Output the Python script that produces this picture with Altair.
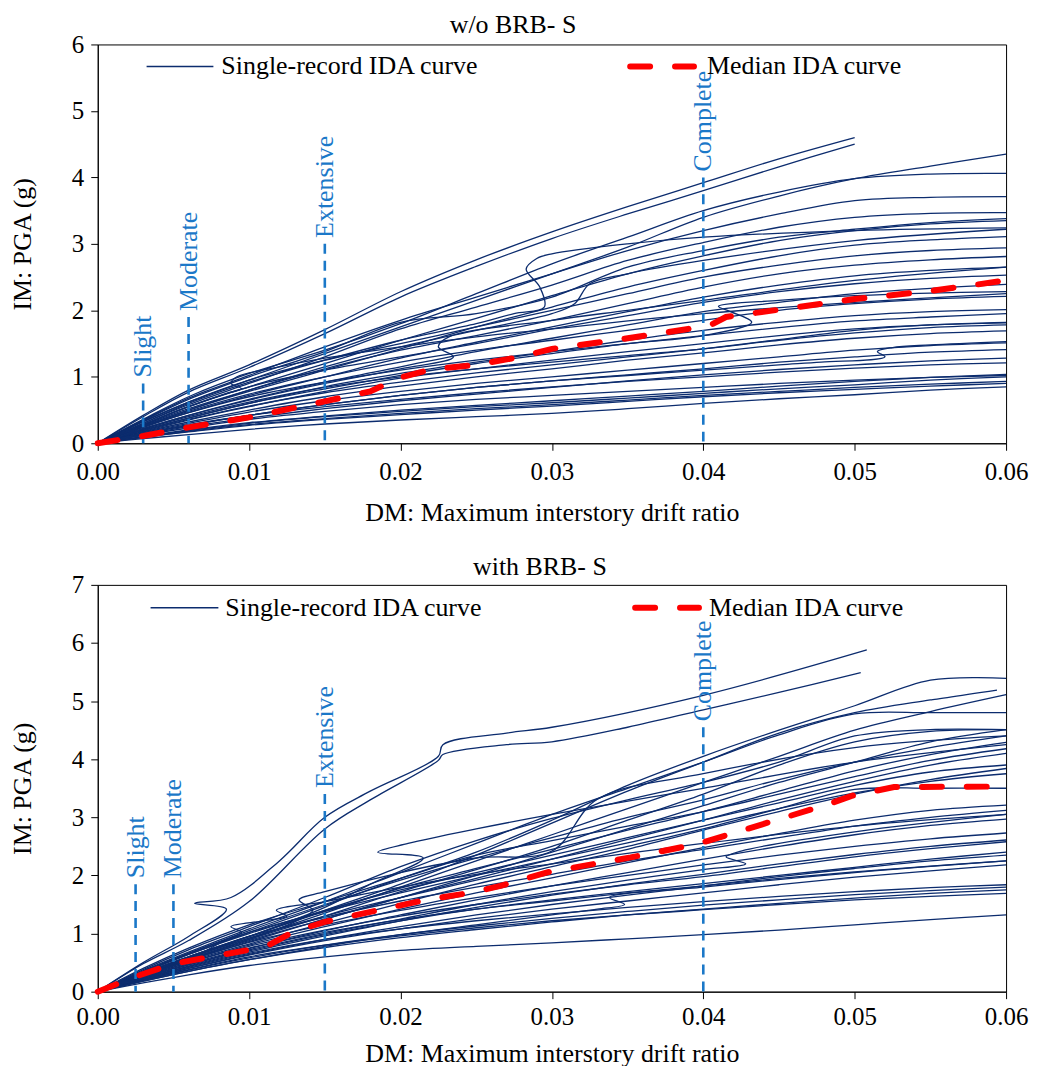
import altair as alt
import pandas as pd

# ---------------- data ----------------
DRIFT_GRID = [0, 0.003, 0.006, 0.01, 0.015, 0.02, 0.025, 0.03, 0.035, 0.04, 0.045, 0.05, 0.055, 0.06]

# w/o BRB- S : single-record IDA curves (PGA values on DRIFT_GRID)
TOP_CURVES = [
    [0, .42, .80, 1.18, 1.71, 2.28, 2.76, 3.18, 3.56, 3.92, 4.28, 4.60],
    [0, .40, .77, 1.14, 1.65, 2.20, 2.66, 3.08, 3.45, 3.80, 4.16, 4.50],
    [0, .33, .62, .95, 1.35, 1.75, 2.15, 2.55, 2.95, 3.40, 3.72, 3.98, 4.17, 4.35],
    [0, .36, .70, 1.05, 1.40, 1.80, 2.25, 2.70, 3.10, 3.50, 3.78, 3.98, 4.05, 4.06],
    [0, .35, .68, 1.02, 1.45, 1.85, 2.20, 2.55, 2.90, 3.20, 3.45, 3.65, 3.70, 3.71],
    [0, .30, .58, .90, 1.30, 1.72, 2.05, 2.38, 2.75, 3.02, 3.25, 3.40, 3.46, 3.47],
    [0, .34, .66, 1.00, 1.38, 1.82, 1.95, 2.20, 2.65, 2.90, 3.10, 3.22, 3.32, 3.38],
    [0, .28, .55, .85, 1.20, 1.55, 1.88, 2.22, 2.55, 2.82, 3.05, 3.20, 3.30, 3.35],
    [0, .26, .50, .78, 1.10, 1.42, 1.75, 2.05, 2.35, 2.60, 2.82, 2.98, 3.06, 3.11],
    [0, .32, .62, .95, 1.25, 1.50, 1.75, 2.00, 2.25, 2.50, 2.68, 2.82, 2.90, 2.94],
    [0, .27, .52, .80, 1.12, 1.40, 1.62, 1.85, 2.10, 2.35, 2.55, 2.68, 2.76, 2.81],
    [0, .24, .46, .72, 1.00, 1.28, 1.52, 1.75, 1.98, 2.20, 2.38, 2.52, 2.60, 2.65],
    [0, .28, .55, .85, 1.10, 1.30, 1.50, 1.72, 1.92, 2.12, 2.28, 2.40, 2.48, 2.53],
    [0, .22, .42, .66, .92, 1.15, 1.38, 1.58, 1.78, 1.98, 2.12, 2.25, 2.33, 2.39],
    [0, .25, .48, .74, 1.00, 1.22, 1.40, 1.55, 1.70, 1.85, 2.00, 2.10, 2.17, 2.21],
    [0, .20, .38, .60, .85, 1.05, 1.22, 1.38, 1.55, 1.70, 1.82, 1.92, 1.98, 2.01],
    [0, .24, .46, .70, .92, 1.10, 1.25, 1.38, 1.50, 1.62, 1.74, 1.84, 1.90, 1.95],
    [0, .18, .35, .55, .78, .98, 1.12, 1.25, 1.38, 1.50, 1.62, 1.72, 1.78, 1.81],
    [0, .21, .40, .62, .84, 1.00, 1.12, 1.22, 1.32, 1.42, 1.55, 1.66, 1.74, 1.78],
    [0, .17, .32, .50, .70, .86, 1.00, 1.12, 1.25, 1.36, 1.48, 1.58, 1.65, 1.69],
    [0, .16, .30, .47, .64, .78, .90, 1.00, 1.10, 1.20, 1.30, 1.40, 1.47, 1.51],
    [0, .14, .27, .42, .58, .72, .84, .94, 1.03, 1.12, 1.22, 1.30, 1.37, 1.41],
    [0, .13, .25, .38, .52, .64, .74, .84, .94, 1.03, 1.11, 1.18, 1.24, 1.28],
    [0, .15, .28, .42, .55, .66, .76, .85, .93, 1.00, 1.07, 1.13, 1.18, 1.21],
    [0, .10, .20, .31, .41, .50, .57, .64, .71, .78, .86, .93, .99, 1.035],
    [0, .10, .19, .30, .40, .48, .55, .61, .68, .75, .82, .88, .95, 1.00],
    [0, .09, .18, .28, .37, .45, .52, .58, .65, .72, .78, .84, .89, .93],
    [0, .09, .17, .27, .36, .43, .50, .56, .63, .70, .76, .81, .86, .90],
    [0, .07, .13, .21, .29, .35, .40, .45, .52, .60, .67, .73, .80, .85],
    [0, .12, .23, .36, .48, .58, .66, .72, .78, .84, .90, .95, .99, 1.02],
    [0, .19, .36, .56, .76, .92, 1.06, 1.18, 1.30, 1.42, 1.56, 1.70, 1.78, 1.82],
]
# curves with resurrections / back-tracking (own drift values)
TOP_IRREG_X = [
    [0, .003, .006, .01, .015, .02, .025, .0275, .0295, .0292, .0283, .0290, .0300, .035, .04, .05, .06],
    [0, .003, .006, .01, .015, .02, .025, .03, .035, .040, .0432, .0418, .0410, .045, .05, .055, .06],
    [0, .003, .006, .01, .015, .02, .025, .03, .035, .04, .045, .0478, .0520, .0515, .0525, .055, .06],
    [0, .003, .006, .0085, .0095, .0088, .0092, .012, .015, .02, .025, .03, .04, .05, .06],
    [0, .003, .006, .01, .015, .02, .0235, .0225, .0232, .03, .035, .04, .05, .06],
    [0, .003, .006, .01, .015, .02, .025, .03, .0315, .0325, .035, .04, .05, .06],
]
TOP_IRREG_Y = [
    [0, .30, .60, .92, 1.25, 1.55, 1.80, 1.95, 2.05, 2.35, 2.62, 2.78, 2.85, 3.00, 3.10, 3.20, 3.24],
    [0, .20, .38, .60, .82, 1.02, 1.20, 1.35, 1.50, 1.62, 1.82, 1.98, 2.06, 2.15, 2.22, 2.26, 2.28],
    [0, .14, .27, .42, .58, .72, .84, .94, 1.02, 1.10, 1.18, 1.22, 1.30, 1.38, 1.44, 1.48, 1.53],
    [0, .28, .55, .75, .82, .90, 1.00, 1.15, 1.28, 1.45, 1.60, 1.72, 1.95, 2.12, 2.25],
    [0, .22, .42, .65, .90, 1.12, 1.30, 1.45, 1.60, 1.85, 2.00, 2.15, 2.45, 2.65],
    [0, .26, .50, .80, 1.15, 1.45, 1.70, 1.95, 2.10, 2.40, 2.55, 2.75, 3.05, 3.22],
]
TOP_MEDIAN_X = [0, .003, .006, .01, .015, .018, .02, .022, .025, .0277, .03, .035, .039, .0405, .0415, .045, .05, .055, .06]
TOP_MEDIAN_Y = [0, .11, .24, .39, .63, .78, .99, 1.11, 1.18, 1.29, 1.42, 1.58, 1.72, 1.78, 1.90, 2.01, 2.17, 2.29, 2.45]

# with BRB- S
BOT_CURVES = [
    [0, .34, .64, 1.02, 1.48, 1.95, 2.40, 2.95, 3.55, 4.05, 4.50, 4.92, 5.36, 5.39],
    [0, .30, .58, .92, 1.35, 1.80, 2.25, 2.70, 3.15, 3.60, 4.05, 4.50, 4.82, 5.11],
    [0, .36, .68, 1.08, 1.55, 2.05, 2.55, 3.05, 3.50, 3.95, 4.42, 4.78, 4.80, 4.80],
    [0, .38, .72, 1.12, 1.62, 2.15, 2.60, 2.98, 3.30, 3.60, 3.95, 4.40, 4.51, 4.51],
    [0, .30, .56, .90, 1.30, 1.72, 2.10, 2.50, 2.95, 3.40, 3.90, 4.30, 4.48, 4.51],
    [0, .28, .54, .86, 1.25, 1.62, 2.00, 2.40, 2.80, 3.20, 3.60, 3.95, 4.30, 4.51],
    [0, .34, .66, 1.05, 1.50, 1.92, 2.30, 2.65, 3.00, 3.30, 3.65, 3.95, 4.20, 4.40],
    [0, .31, .60, .95, 1.38, 1.78, 2.12, 2.45, 2.78, 3.10, 3.45, 3.80, 4.08, 4.29],
    [0, .40, .75, 1.15, 1.55, 1.95, 2.35, 2.60, 2.85, 3.10, 3.40, 3.70, 3.98, 4.18],
    [0, .29, .55, .88, 1.25, 1.62, 1.95, 2.28, 2.62, 2.95, 3.30, 3.62, 3.90, 4.10],
    [0, .33, .64, 1.00, 1.40, 1.75, 2.05, 2.35, 2.65, 2.95, 3.25, 3.55, 3.78, 3.90],
    [0, .27, .52, .82, 1.18, 1.52, 1.85, 2.15, 2.45, 2.78, 3.10, 3.40, 3.65, 3.84],
    [0, .35, .66, 1.02, 1.38, 1.70, 2.00, 2.28, 2.56, 2.85, 3.15, 3.42, 3.62, 3.75],
    [0, .30, .58, .92, 1.30, 1.62, 1.92, 2.20, 2.50, 2.80, 3.15, 3.48, 3.50, 3.50],
    [0, .26, .50, .80, 1.12, 1.42, 1.70, 1.96, 2.22, 2.48, 2.72, 2.95, 3.12, 3.21],
    [0, .32, .60, .95, 1.28, 1.56, 1.80, 2.02, 2.25, 2.45, 2.65, 2.85, 3.00, 3.12],
    [0, .24, .46, .74, 1.05, 1.32, 1.58, 1.82, 2.05, 2.28, 2.50, 2.70, 2.86, 2.97],
    [0, .28, .54, .85, 1.15, 1.40, 1.62, 1.82, 2.00, 2.18, 2.35, 2.50, 2.63, 2.73],
    [0, .22, .43, .68, .96, 1.22, 1.45, 1.66, 1.85, 2.02, 2.20, 2.36, 2.50, 2.61],
    [0, .26, .50, .78, 1.06, 1.30, 1.50, 1.68, 1.84, 1.98, 2.15, 2.32, 2.46, 2.58],
    [0, .23, .44, .70, .98, 1.22, 1.42, 1.58, 1.72, 1.86, 2.00, 2.14, 2.28, 2.40],
    [0, .20, .40, .64, .90, 1.12, 1.32, 1.50, 1.66, 1.82, 1.98, 2.12, 2.25, 2.35],
    [0, .25, .48, .75, 1.02, 1.24, 1.42, 1.56, 1.70, 1.82, 1.95, 2.06, 2.16, 2.25],
    [0, .21, .40, .63, .88, 1.08, 1.26, 1.42, 1.56, 1.70, 1.84, 1.97, 2.08, 2.18],
    [0, .22, .42, .66, .90, 1.08, 1.22, 1.34, 1.45, 1.55, 1.64, 1.72, 1.79, 1.84],
    [0, .19, .37, .58, .80, .98, 1.13, 1.26, 1.38, 1.49, 1.58, 1.67, 1.74, 1.80],
    [0, .18, .35, .55, .76, .93, 1.07, 1.20, 1.32, 1.42, 1.52, 1.61, 1.69, 1.75],
    [0, .20, .38, .60, .80, .96, 1.10, 1.22, 1.32, 1.41, 1.50, 1.58, 1.64, 1.69],
    [0, .15, .29, .45, .60, .71, .78, .84, .91, .98, 1.06, 1.15, 1.24, 1.32],
]
BOT_IRREG_X = [
    [0, .003, .006, .0085, .0064, .0088, .012, .015, .018, .0225, .0228, .027, .03, .04, .0508],
    [0, .003, .006, .01, .015, .018, .0225, .0228, .027, .03, .035, .04, .045, .0504],
    [0, .003, .006, .01, .015, .02, .025, .03, .035, .04, .045, .05, .055, .0594],
    [0, .003, .006, .01, .013, .0142, .0133, .015, .02, .025, .03, .033, .04, .05, .06],
    [0, .003, .006, .01, .015, .02, .025, .03, .033, .0348, .0338, .04, .05, .06],
    [0, .003, .006, .01, .015, .02, .025, .03, .035, .04, .0428, .0415, .0425, .05, .06],
    [0, .003, .006, .01, .015, .018, .0215, .0185, .0205, .025, .03, .04, .05, .06],
    [0, .003, .006, .0085, .0095, .0088, .011, .0125, .0118, .015, .02, .025, .03, .04, .05, .06],
]
BOT_IRREG_Y = [
    [0, .50, .95, 1.42, 1.52, 1.62, 2.25, 3.00, 3.45, 4.05, 4.25, 4.45, 4.55, 5.10, 5.88],
    [0, .48, .88, 1.55, 2.80, 3.30, 3.98, 4.08, 4.25, 4.30, 4.55, 4.85, 5.15, 5.49],
    [0, .32, .60, .95, 1.40, 1.85, 2.35, 2.90, 3.45, 3.95, 4.45, 4.80, 5.02, 5.19],
    [0, .30, .56, .90, 1.20, 1.40, 1.58, 1.72, 2.05, 2.30, 2.42, 3.31, 3.75, 4.20, 4.40],
    [0, .18, .35, .55, .78, .98, 1.15, 1.32, 1.42, 1.50, 1.62, 1.80, 2.05, 2.25],
    [0, .24, .46, .72, 1.00, 1.25, 1.50, 1.72, 1.92, 2.10, 2.20, 2.32, 2.42, 2.75, 3.05],
    [0, .30, .58, .95, 1.45, 1.85, 2.30, 2.40, 2.55, 2.80, 3.05, 3.50, 3.95, 4.25],
    [0, .28, .55, .90, 1.02, 1.12, 1.22, 1.30, 1.40, 1.55, 1.80, 2.02, 2.20, 2.55, 2.85, 3.05],
]
BOT_MEDIAN_X = [0, .0025, .005, .0098, .0113, .0129, .015, .0183, .0215, .0248, .0266, .0298, .0352, .0396, .0439, .0482, .0498, .0526, .06]
BOT_MEDIAN_Y = [0, .26, .48, .71, .80, 1.03, 1.20, 1.39, 1.57, 1.71, 1.82, 2.06, 2.31, 2.54, 2.88, 3.22, 3.37, 3.52, 3.53]

STATES = ["Slight", "Moderate", "Extensive", "Complete"]
TOP_STATE_X = [0.003, 0.006, 0.015, 0.04]
TOP_STATE_TOP = [0.9, 1.9, 3.0, 4.0]
BOT_STATE_X = [0.0025, 0.005, 0.015, 0.04]
BOT_STATE_TOP = [1.85, 1.85, 3.4, 4.55]

LEGEND_LABELS = ["Single-record IDA curve", "Median IDA curve"]
X_TICKS = [0, 0.01, 0.02, 0.03, 0.04, 0.05, 0.06]

# ---------------- styling ----------------
FONT = "'Liberation Serif', 'Times New Roman', Times, 'DejaVu Serif', serif"
NAVY = "#0c2c6e"
BLUE = "#1b78c8"
W = 911


def curves_frame(grid_curves, irr_x, irr_y):
    rows = []
    cid = 0
    for vals in grid_curves:
        for i, v in enumerate(vals):
            rows.append({"curve": cid, "i": i, "x": DRIFT_GRID[i], "y": v})
        cid += 1
    for xs, ys in zip(irr_x, irr_y):
        for i, (xv, yv) in enumerate(zip(xs, ys)):
            rows.append({"curve": cid, "i": i, "x": xv, "y": yv})
        cid += 1
    return pd.DataFrame(rows)


def panel(title, title_dx, title_dy, title_off, grid_curves, irr_x, irr_y, med_x, med_y,
          st_x, st_top, ymax, height, leg, xlab_pad, xtitle_pad):
    cdf = curves_frame(grid_curves, irr_x, irr_y)
    mdf = pd.DataFrame({"x": med_x, "y": med_y, "i": list(range(len(med_x)))})
    sdf = pd.DataFrame({"name": STATES, "x": st_x, "top": st_top, "base": [0] * len(st_x)})

    xenc = alt.X("x:Q", scale=alt.Scale(domain=[0, 0.06], nice=False),
                 axis=alt.Axis(values=X_TICKS, format=".2f", title="DM: Maximum interstory drift ratio",
                               labelFlush=False, labelPadding=xlab_pad, titlePadding=xtitle_pad))
    yenc = alt.Y("y:Q", scale=alt.Scale(domain=[0, ymax], nice=False),
                 axis=alt.Axis(values=list(range(ymax + 1)), format="d", title="IM: PGA (g)",
                               labelPadding=7, titlePadding=36))

    lines = alt.Chart(cdf).mark_line(color=NAVY, strokeWidth=1.3, interpolate="catmull-rom").encode(
        x=xenc, y=yenc, detail="curve:N", order="i:Q")
    rules = alt.Chart(sdf).mark_rule(color=BLUE, strokeWidth=2.6, strokeDash=[10, 7]).encode(
        x="x:Q", y="top:Q", y2="base:Q")
    labels = alt.Chart(sdf).mark_text(angle=270, align="left", baseline="middle", dx=6,
                                      font=FONT, fontSize=26, color=BLUE).encode(
        x="x:Q", y="top:Q", text="name:N")
    median = alt.Chart(mdf).mark_line(color="#ff0000", strokeWidth=6, strokeDash=[20, 25],
                                      strokeCap="round").encode(x="x:Q", y="y:Q", order="i:Q")

    l1df = pd.DataFrame({"label": [LEGEND_LABELS[0]]})
    l2df = pd.DataFrame({"label": [LEGEND_LABELS[1]]})
    leg_line = alt.Chart(l1df).mark_rule(color=NAVY, strokeWidth=1.5).encode(
        x=alt.value(leg[0]), x2=alt.value(leg[1]), y=alt.value(leg[2]))
    leg_text1 = alt.Chart(l1df).mark_text(align="left", baseline="middle", font=FONT, fontSize=26,
                                          color="black").encode(
        x=alt.value(leg[3]), y=alt.value(leg[2]), text="label:N")
    leg_dash = alt.Chart(l2df).mark_rule(color="#ff0000", strokeWidth=6, strokeDash=[20, 25],
                                         strokeCap="round").encode(
        x=alt.value(leg[4] + 3), x2=alt.value(leg[5] - 3), y=alt.value(leg[2]))
    leg_text2 = alt.Chart(l2df).mark_text(align="left", baseline="middle", font=FONT, fontSize=26,
                                          color="black").encode(
        x=alt.value(leg[6]), y=alt.value(leg[2]), text="label:N")

    return alt.layer(lines, rules, labels, median, leg_line, leg_text1, leg_dash, leg_text2).properties(
        width=W, height=height,
        title=alt.TitleParams(title, font=FONT, fontSize=26, fontWeight="normal", color="black",
                              anchor="middle", dx=title_dx, dy=title_dy, offset=title_off))


top = panel("w/o BRB- S", -39, -3, -9, TOP_CURVES, TOP_IRREG_X, TOP_IRREG_Y, TOP_MEDIAN_X, TOP_MEDIAN_Y,
            TOP_STATE_X, TOP_STATE_TOP, 6, 400, [49, 116, 22, 124, 531, 601, 611], 9, 15)
bottom = panel("with BRB- S", -12, 0, -7, BOT_CURVES, BOT_IRREG_X, BOT_IRREG_Y, BOT_MEDIAN_X, BOT_MEDIAN_Y,
               BOT_STATE_X, BOT_STATE_TOP, 7, 408, [53, 121, 23, 128, 536, 606, 613], 6, 11)

chart = alt.vconcat(top, bottom, spacing=27).properties(
    padding={"left": 1, "top": 2, "right": 0, "bottom": 0}
).configure_view(stroke="black", strokeWidth=1).configure_axis(
    labelFont=FONT, labelFontSize=25, labelColor="black", titleFont=FONT, titleFontSize=26,
    titleFontWeight="normal", titleColor="black", domainColor="black", tickColor="black",
    tickSize=7, grid=False
)

chart.save("out.html", embed_options={"renderer": "svg", "actions": False})
